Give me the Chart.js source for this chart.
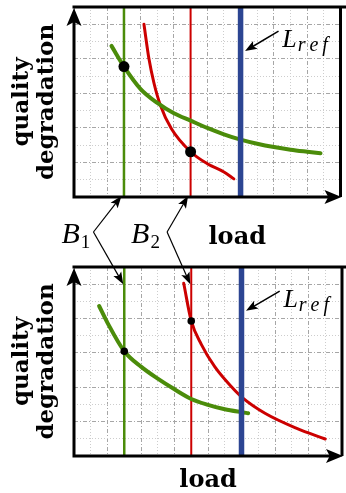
<!DOCTYPE html>
<html>
<head>
<meta charset="utf-8">
<script src="https://cdn.jsdelivr.net/npm/chart.js@4/dist/chart.umd.min.js"></script>
<style>
  html, body { margin: 0; padding: 0; background: #fff; }
  #wrap { position: relative; width: 346px; height: 493px; }
  #top { position: absolute; left: 0; top: 0; }
  #bottom { position: absolute; left: 0; top: 250px; }
  #overlay { position: absolute; left: 0; top: 0; pointer-events: none; }
</style>
</head>
<body>
<div id="wrap">
  <canvas id="top" width="346" height="250"></canvas>
  <canvas id="bottom" width="346" height="243"></canvas>
  <canvas id="overlay" width="346" height="493"></canvas>
</div>
<script>
// axis ranges (grid units)
const xMax = 16;
const yMax = 11;

// bound lines B1, B2 and reference load
const bounds = [3, 7];
const boundLabels = ["1", "2"];
const loadRef = 10;

// upper panel curves
const topGreenX = [2.25, 3, 4, 5, 6, 7, 8, 9, 10, 11, 12, 13, 14, 14.8];
const topGreenY = [8.75, 7.55, 6.25, 5.45, 4.85, 4.42, 4.0, 3.63, 3.32, 3.08, 2.89, 2.74, 2.62, 2.53];
const topRedX = [4.2, 4.5, 4.8, 5.18, 5.85, 7, 8, 9, 9.6];
const topRedY = [10.0, 8.0, 6.6, 5.33, 3.95, 2.62, 1.93, 1.45, 1.05];
const topDotsY = [7.55, 2.62];

// lower panel curves
const botGreenX = [1.5, 2, 3, 4, 5, 6, 7, 8, 9, 10, 10.4];
const botGreenY = [8.73, 7.75, 6.1, 5.2, 4.5, 3.88, 3.32, 2.98, 2.72, 2.55, 2.49];
const botRedX = [6.55, 7, 7.6, 8.4, 9.4, 10.05, 11.4, 13.3, 15];
const botRedY = [10.05, 7.86, 6.5, 5.2, 4.03, 3.4, 2.49, 1.61, 0.99];
const botDotsY = [6.1, 7.86];

const GREEN = "#4b8c0a";
const RED = "#cc0000";
const BLUE = "#2c4592";
const MAJOR = "#a6a6a6";
const MINOR = "#cdcdcd";

function pts(xs, ys) {
  return xs.map((x, i) => ({ x: x, y: ys[i] }));
}

function curve(xs, ys, color, width) {
  return {
    data: pts(xs, ys), showLine: true, borderColor: color, borderWidth: width,
    pointRadius: 0, cubicInterpolationMode: "monotone", borderCapStyle: "round", order: 2
  };
}

function vline(x, color, width, order) {
  return {
    data: [{ x: x, y: 0 }, { x: x, y: yMax }], showLine: true,
    borderColor: color, borderWidth: width, pointRadius: 0, borderCapStyle: "round", order: order
  };
}

function dots(ys, r) {
  return {
    data: pts(bounds, ys), showLine: false, pointRadius: r,
    backgroundColor: "#000", borderWidth: 0, order: 0
  };
}

function arrowHead(ctx, x, y, ang, len, half) {
  ctx.save();
  ctx.translate(x, y);
  ctx.rotate(ang);
  ctx.beginPath();
  ctx.moveTo(0, 0);
  ctx.lineTo(-len, -half);
  ctx.lineTo(-len * 0.78, 0);
  ctx.lineTo(-len, half);
  ctx.closePath();
  ctx.fill();
  ctx.restore();
}

function arrow(ctx, x0, y0, x1, y1, lw, len, half) {
  const ang = Math.atan2(y1 - y0, x1 - x0);
  ctx.lineWidth = lw;
  ctx.beginPath();
  ctx.moveTo(x0, y0);
  ctx.lineTo(x1 - Math.cos(ang) * len * 0.7, y1 - Math.sin(ang) * len * 0.7);
  ctx.stroke();
  arrowHead(ctx, x1, y1, ang, len, half);
}

// black frame with arrowed axes
const framePlugin = {
  id: "frame",
  afterDraw(chart) {
    const { ctx, chartArea: a } = chart;
    ctx.save();
    ctx.strokeStyle = "#000";
    ctx.fillStyle = "#000";
    ctx.lineWidth = 3;
    ctx.beginPath();
    ctx.moveTo(a.left, a.bottom + 1.5);
    ctx.lineTo(a.left, a.top + 8);
    ctx.moveTo(a.left - 1.5, a.top);
    ctx.lineTo(chart.width, a.top);
    ctx.moveTo(a.right, a.top);
    ctx.lineTo(a.right, a.bottom);
    ctx.moveTo(a.left - 1.5, a.bottom);
    ctx.lineTo(a.right - 8, a.bottom);
    ctx.stroke();
    arrowHead(ctx, a.left, a.top + 1, -Math.PI / 2, 18, 7.5);
    arrowHead(ctx, a.right + 1, a.bottom, 0, 17, 7);
    ctx.restore();
  }
};

function makeChart(canvasId, datasets, padding, withLoadTitle) {
  return new Chart(document.getElementById(canvasId), {
    type: "scatter",
    data: { datasets: datasets },
    options: {
      responsive: false,
      animation: false,
      devicePixelRatio: 1,
      layout: { padding: padding },
      plugins: { legend: { display: false }, tooltip: { enabled: false } },
      scales: {
        x: {
          type: "linear", position: "bottom", min: 0, max: xMax,
          ticks: { display: false, stepSize: 1 },
          grid: { drawTicks: false, lineWidth: 1, color: c => (c.tick && c.tick.value % 2 ? MINOR : "rgba(0,0,0,0)") },
          border: { display: false, dash: [1, 2] },
          title: {
            display: withLoadTitle, text: "load", color: "#000",
            font: { family: "DejaVu Serif", weight: "bold", size: 24, lineHeight: 25 / 24 },
            padding: { top: 12, bottom: 0 }
          }
        },
        xMajor: {
          type: "linear", position: "top", min: 0, max: xMax,
          ticks: { display: false, stepSize: 2 },
          grid: { drawTicks: false, lineWidth: 1, color: MAJOR },
          border: { display: false, dash: [4, 2, 1, 2] }
        },
        y: {
          type: "linear", position: "left", min: 0, max: yMax,
          ticks: { display: false, stepSize: 1 },
          grid: { drawTicks: false, lineWidth: 1, color: c => (c.tick && c.tick.value % 2 ? MINOR : "rgba(0,0,0,0)") },
          border: { display: false, dash: [1, 2] },
          title: {
            display: true, text: ["quality", "degradation"], color: "#000",
            font: { family: "DejaVu Serif", weight: "bold", size: 23, lineHeight: 25 / 23 },
            padding: { top: 10, bottom: 14 }
          }
        },
        yMajor: {
          type: "linear", position: "right", min: 0, max: yMax,
          ticks: { display: false, stepSize: 2 },
          grid: { drawTicks: false, lineWidth: 1, color: MAJOR },
          border: { display: false, dash: [4, 2, 1, 2] }
        }
      }
    },
    plugins: [framePlugin]
  });
}

const chartTop = makeChart("top", [
  dots(topDotsY, 5.5),
  vline(loadRef, BLUE, 5.5, 1),
  curve(topGreenX, topGreenY, GREEN, 4),
  curve(topRedX, topRedY, RED, 3),
  vline(bounds[0], GREEN, 2.5, 3),
  vline(bounds[1], RED, 2, 3)
], { top: 7, right: 1, bottom: 53, left: 0 }, false);

const chartBottom = makeChart("bottom", [
  dots(botDotsY, 3.8),
  vline(loadRef, BLUE, 5.5, 1),
  curve(botGreenX, botGreenY, GREEN, 4),
  curve(botRedX, botRedY, RED, 3),
  vline(bounds[0], GREEN, 2.5, 3),
  vline(bounds[1], RED, 2, 3)
], { top: 17, right: 1, bottom: 0, left: 0 }, true);

// annotations across both panels
function mathLabel(ctx, x, y, main, mainFont, sub, subFont, subDy, spacing) {
  ctx.font = mainFont;
  ctx.fillText(main, x, y);
  let cx = x + ctx.measureText(main).width + 1;
  ctx.font = subFont;
  for (const ch of sub) {
    ctx.fillText(ch, cx, y + subDy);
    cx += ctx.measureText(ch).width + spacing;
  }
}

function drawOverlay() {
  const ctx = document.getElementById("overlay").getContext("2d");
  ctx.fillStyle = "#000";
  ctx.strokeStyle = "#000";
  ctx.textAlign = "left";
  ctx.textBaseline = "alphabetic";
  const offsets = [0, 250];

  [chartTop, chartBottom].forEach((ch, k) => {
    const xs = ch.scales.x, ys = ch.scales.y, dy = offsets[k];
    const tipX = xs.getPixelForValue(loadRef) + 4.5;
    const tipY = ys.getPixelForValue(8.45) + dy;
    arrow(ctx, xs.getPixelForValue(12.28), ys.getPixelForValue(9.6) + dy, tipX, tipY, 1.5, 12, 4.5);
    mathLabel(ctx, xs.getPixelForValue(12.5), ys.getPixelForValue(8.68) + dy,
      "L", 'italic 26px "Liberation Serif"', "ref", 'italic 20px "Liberation Serif"', 4, 4);
  });

  // top "load"
  ctx.font = 'bold 24px "DejaVu Serif"';
  ctx.textAlign = "center";
  ctx.fillText("load", chartTop.scales.x.getPixelForValue(9.8), 244);
  ctx.textAlign = "left";

  const vy = (chartTop.chartArea.bottom + chartBottom.chartArea.top + offsets[1]) / 2;
  const vdx = [28, 21];
  bounds.forEach((b, i) => {
    const topTipX = chartTop.scales.x.getPixelForValue(b) - 2.5;
    const topTipY = chartTop.scales.y.getPixelForValue(0) - 1;
    const botTipX = chartBottom.scales.x.getPixelForValue(b) - 1;
    const botTipY = chartBottom.scales.y.getPixelForValue(10) + offsets[1];
    const vx = topTipX - vdx[i];
    arrow(ctx, vx, vy, topTipX, topTipY, 1.2, 12, 4.5);
    arrow(ctx, vx, vy, botTipX, botTipY, 1.2, 12, 4.5);
    mathLabel(ctx, topTipX - 60 + i * 3, 243, "B", 'italic 30px "Liberation Serif"', boundLabels[i], '19px "Liberation Serif"', 5, 0);
  });
}

drawOverlay();
</script>
</body>
</html>
